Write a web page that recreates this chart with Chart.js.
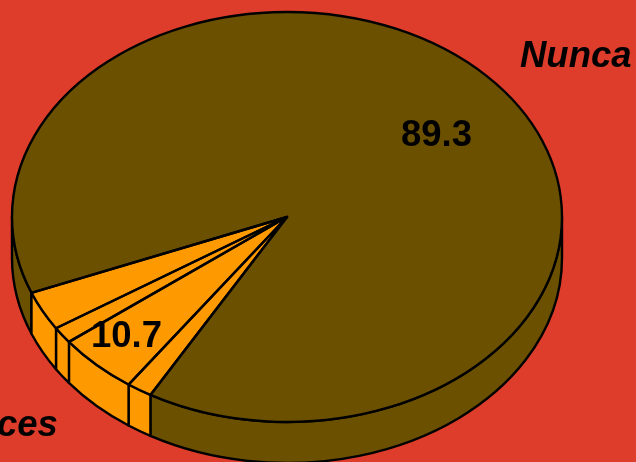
<!DOCTYPE html>
<html>
<head>
<meta charset="utf-8">
<style>
html,body{margin:0;padding:0;background:#DE3D2B;overflow:hidden}
canvas{display:block}
</style>
<script src="https://cdn.jsdelivr.net/npm/chart.js@4/dist/chart.umd.min.js"></script>
</head>
<body>
<canvas id="c" width="636" height="462"></canvas>
<script>
const categories = ["Nunca", "ces", "", "", ""];
const sliceValues = [89.3, 1.5, 4.8, 1.3, 3.1];
const sliceColors = ["#6B5000", "#FF9900", "#FF9900", "#FF9900", "#FF9900"];
const valueLabels = ["89.3", "10.7"];

const PIE = {cx: 287, cy: 217, rx: 275, ry: 205, depth: 41};
const TAU = Math.PI * 2;
const LINE = 2.4;

const pie3d = {
  id: "pie3d",
  beforeDatasetsDraw(chart) {
    const ctx = chart.ctx;
    const arcs = chart.getDatasetMeta(0).data;
    ctx.save();
    ctx.lineWidth = LINE;
    ctx.strokeStyle = "#000";
    ctx.lineJoin = "round";
    arcs.forEach((el, i) => {
      for (let k = -1; k <= 2; k++) {
        const s = Math.max(el.startAngle, k * TAU);
        const e = Math.min(el.endAngle, k * TAU + Math.PI);
        if (e <= s) continue;
        ctx.beginPath();
        ctx.ellipse(PIE.cx, PIE.cy, PIE.rx, PIE.ry, 0, s, e);
        ctx.ellipse(PIE.cx, PIE.cy + PIE.depth, PIE.rx, PIE.ry, 0, e, s, true);
        ctx.closePath();
        ctx.fillStyle = sliceColors[i];
        ctx.fill();
        ctx.stroke();
      }
    });
    ctx.restore();
    const a = arcs[0];
    ctx.save();
    ctx.translate(PIE.cx, PIE.cy);
    ctx.scale(PIE.rx / a.outerRadius, PIE.ry / a.outerRadius);
    ctx.translate(-a.x, -a.y);
  },
  afterDatasetsDraw(chart) {
    const ctx = chart.ctx;
    ctx.restore();
    const arcs = chart.getDatasetMeta(0).data;
    ctx.save();
    ctx.lineWidth = LINE;
    ctx.strokeStyle = "#000";
    ctx.lineJoin = "round";
    arcs.forEach(el => {
      ctx.beginPath();
      ctx.moveTo(PIE.cx, PIE.cy);
      ctx.ellipse(PIE.cx, PIE.cy, PIE.rx, PIE.ry, 0, el.startAngle, el.endAngle);
      ctx.closePath();
      ctx.stroke();
    });
    ctx.fillStyle = "#000";
    ctx.textBaseline = "alphabetic";
    ctx.textAlign = "left";
    ctx.font = "bold 36.5px 'Liberation Sans'";
    ctx.fillText(valueLabels[0], 401, 146);
    ctx.fillText(valueLabels[1], 91, 347);
    ctx.font = "italic bold 36.5px 'Liberation Sans'";
    ctx.fillText(categories[0], 520, 67);
    ctx.fillText(categories[1], -3, 436);
    ctx.restore();
  }
};

new Chart(document.getElementById("c"), {
  type: "pie",
  data: {
    labels: categories,
    datasets: [{
      data: sliceValues,
      backgroundColor: sliceColors,
      borderWidth: 0
    }]
  },
  options: {
    responsive: false,
    animation: false,
    rotation: 248.3,
    layout: {padding: 0},
    plugins: {legend: {display: false}, tooltip: {enabled: false}, title: {display: false}}
  },
  plugins: [pie3d]
});
</script>
</body>
</html>
